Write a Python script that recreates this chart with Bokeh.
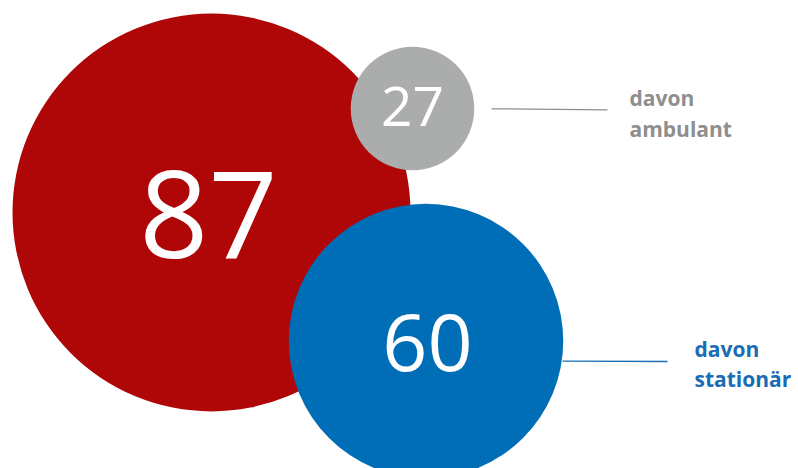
from bokeh.plotting import figure
from bokeh.models import Range1d
from bokeh.core.properties import value
from bokeh.embed import file_html
from bokeh.resources import INLINE

# data
categories = ["gesamt", "davon ambulant", "davon stationär"]
values = [87, 27, 60]
label_lines = [None, ["davon", "ambulant"], ["davon", "stationär"]]

# styles / layout
colors = ["#AF0608", "#ABADAC", "#006EB7"]
label_colors = [None, "#8E8E8E", "#1A6CB4"]
scale = 199 / 87.0  # px radius per unit value (radius proportional to value)
centers = [(211, 212), (412, 108), (425.5, 340.5)]
num_pos = [(208, 213.5), (412, 106), (427, 341.5)]
num_sizes = ["121px", "55px", "79px"]
leader_lines = [None, ((491, 607), (108.3, 109.3)), ((562, 667), (360.7, 361))]
label_pos = [None, (629, 97, 31), (694, 348, 30)]

W, H = 798, 468
p = figure(width=W, height=H, output_backend="svg", toolbar_location=None,
           x_range=Range1d(0, W), y_range=Range1d(H, 0),
           min_border=0, outline_line_color=None)
p.axis.visible = False
p.grid.visible = False
p.background_fill_color = "white"
p.border_fill_color = "white"

for i, v in enumerate(values):
    cx, cy = centers[i]
    p.circle(x=[cx], y=[cy], radius=v * scale, fill_color=colors[i],
             line_color=None)

for i, v in enumerate(values):
    x, y = num_pos[i]
    p.text(x=[x], y=[y], text=[str(v)], text_color="white",
           text_font=value("Open Sans"), text_font_size=num_sizes[i],
           text_align="center", text_baseline="middle")

for i in range(len(values)):
    if leader_lines[i] is None:
        continue
    xs, ys = leader_lines[i]
    p.line(x=list(xs), y=list(ys), line_color=label_colors[i], line_width=1.3)
    lx, ly, dy = label_pos[i]
    for j, t in enumerate(label_lines[i]):
        p.text(x=[lx], y=[ly + j * dy], text=[t], text_color=label_colors[i],
               text_font=value("Open Sans"), text_font_size="21px",
               text_font_style="bold", text_align="left",
               text_baseline="middle")

open("out.html", "w").write(file_html(p, INLINE))
